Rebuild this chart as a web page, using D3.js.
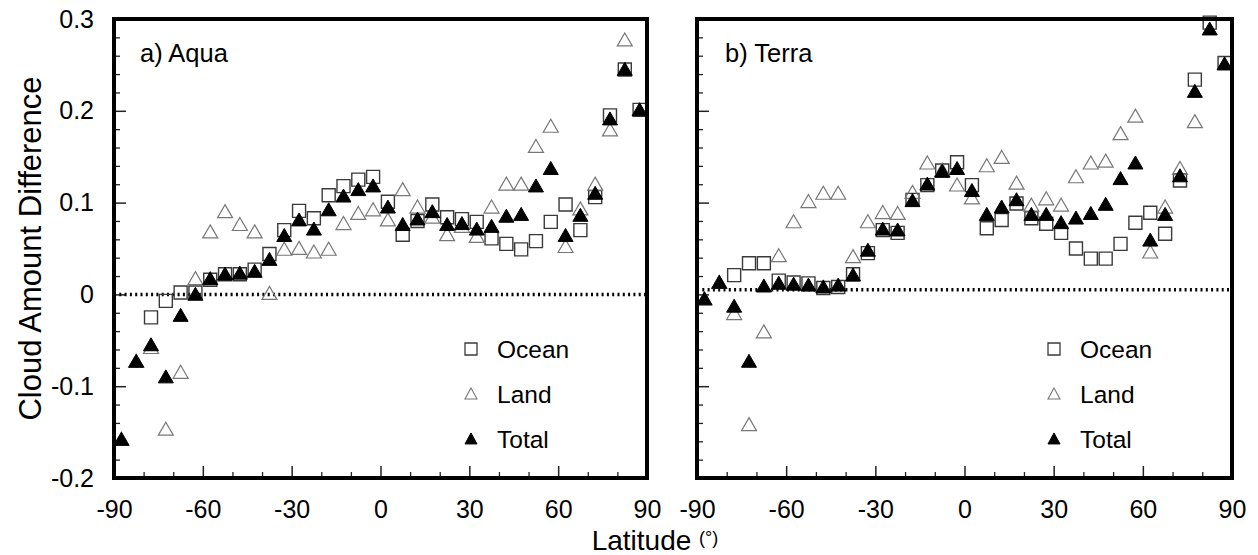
<!DOCTYPE html>
<html>
<head>
<meta charset="utf-8">
<script src="https://cdn.jsdelivr.net/npm/d3@7"></script>
<style>
  body { margin: 0; background: #fff; }
  svg text { font-family: "Liberation Sans", Arial, sans-serif; fill: #000; }
</style>
</head>
<body>
<svg id="chart" width="1258" height="555"></svg>
<script>
// latitude bins (5 degree)
const latitudes = [-87.5, -82.5, -77.5, -72.5, -67.5, -62.5, -57.5, -52.5, -47.5, -42.5,
  -37.5, -32.5, -27.5, -22.5, -17.5, -12.5, -7.5, -2.5, 2.5, 7.5, 12.5, 17.5, 22.5, 27.5,
  32.5, 37.5, 42.5, 47.5, 52.5, 57.5, 62.5, 67.5, 72.5, 77.5, 82.5, 87.5];

const aquaOcean = [null, null, -0.025, -0.007, 0.002, 0.002, 0.016, 0.022, 0.022, 0.027,
  0.044, 0.070, 0.091, 0.083, 0.108, 0.118, 0.125, 0.128, 0.101, 0.065,
  0.080, 0.098, 0.084, 0.082, 0.079, 0.061, 0.055, 0.049, 0.058, 0.079,
  0.098, 0.070, 0.106, 0.195, 0.245, 0.201];
const aquaLand = [-0.158, -0.073, -0.058, -0.147, -0.085, 0.017, 0.068, 0.090, 0.076, 0.068,
  0.001, 0.049, 0.050, 0.046, 0.049, 0.077, 0.088, 0.092, 0.081, 0.114,
  0.095, 0.084, 0.065, 0.074, 0.063, 0.095, 0.120, 0.120, 0.161, 0.183,
  0.052, 0.093, 0.120, 0.179, 0.277, null];
const aquaTotal = [-0.158, -0.073, -0.055, -0.090, -0.023, 0.000, 0.017, 0.022, 0.023, 0.025,
  0.038, 0.064, 0.081, 0.071, 0.092, 0.107, 0.114, 0.118, 0.095, 0.076,
  0.082, 0.090, 0.076, 0.077, 0.071, 0.074, 0.085, 0.087, 0.118, 0.137,
  0.064, 0.086, 0.110, 0.191, 0.245, 0.201];

const terraOcean = [null, null, 0.021, 0.034, 0.034, 0.015, 0.013, 0.012, 0.007, 0.008,
  0.022, 0.045, 0.070, 0.067, 0.103, 0.119, 0.135, 0.144, 0.119, 0.072,
  0.081, 0.099, 0.083, 0.077, 0.067, 0.050, 0.039, 0.039, 0.055, 0.078,
  0.089, 0.066, 0.124, 0.234, 0.296, 0.252];
const terraLand = [-0.005, 0.013, -0.021, -0.142, -0.041, 0.042, 0.079, 0.101, 0.110, 0.110,
  0.041, 0.079, 0.089, 0.088, 0.111, 0.143, 0.135, 0.119, 0.105, 0.140,
  0.149, 0.121, 0.097, 0.104, 0.097, 0.128, 0.143, 0.145, 0.175, 0.194,
  0.046, 0.095, 0.137, 0.188, null, null];
const terraTotal = [-0.005, 0.013, -0.013, -0.073, 0.009, 0.012, 0.011, 0.010, 0.008, 0.010,
  0.021, 0.048, 0.071, 0.070, 0.102, 0.120, 0.134, 0.137, 0.113, 0.087,
  0.095, 0.103, 0.087, 0.087, 0.078, 0.083, 0.088, 0.098, 0.126, 0.143,
  0.059, 0.087, 0.129, 0.221, 0.289, 0.251];

const xTicks = [-90, -60, -30, 0, 30, 60, 90];
const xMinorTicks = [-80, -70, -50, -40, -20, -10, 10, 20, 40, 50, 70, 80];
const yTicks = [-0.2, -0.1, 0, 0.1, 0.2, 0.3];
const yTickLabels = ["-0.2", "-0.1", "0", "0.1", "0.2", "0.3"];
const yMinorTicks = [-0.18, -0.16, -0.14, -0.12, -0.08, -0.06, -0.04, -0.02, 0.02, 0.04, 0.06,
  0.08, 0.12, 0.14, 0.16, 0.18, 0.22, 0.24, 0.26, 0.28];
const seriesNames = ["Ocean", "Land", "Total"];

const panels = [
  { title: "a) Aqua", left: 114, right: 647, labels: true, zero: 0,
    ocean: aquaOcean, land: aquaLand, total: aquaTotal },
  { title: "b) Terra", left: 697, right: 1232, labels: false, zero: 0.005,
    ocean: terraOcean, land: terraLand, total: terraTotal }
];

const TOP = 19, BOTTOM = 478;
const TICK_FONT = 25;
const svg = d3.select("#chart");

const y = d3.scaleLinear().domain([-0.2, 0.3]).range([BOTTOM, TOP]);

function trianglePath(w, h) {
  const p = d3.path();
  p.moveTo(0, -h * 0.55);
  p.lineTo(w / 2, h * 0.45);
  p.lineTo(-w / 2, h * 0.45);
  p.closePath();
  return p.toString();
}
function squarePath(s) {
  const p = d3.path();
  p.rect(-s / 2, -s / 2, s, s);
  return p.toString();
}

const markers = {
  Ocean: { d: squarePath(13), fill: "none", stroke: "#3a3a3a", sw: 1.4 },
  Land: { d: trianglePath(15, 13), fill: "none", stroke: "#777", sw: 1.2 },
  Total: { d: trianglePath(15, 13), fill: "#000", stroke: "#000", sw: 1 }
};
const legendMarkers = {
  Ocean: { d: squarePath(12), fill: "none", stroke: "#3a3a3a", sw: 1.3 },
  Land: { d: trianglePath(12, 11), fill: "none", stroke: "#777", sw: 1.1 },
  Total: { d: trianglePath(12, 11), fill: "#000", stroke: "#000", sw: 1 }
};

function drawPanel(p) {
  const x = d3.scaleLinear().domain([-90, 90]).range([p.left, p.right]);
  const g = svg.append("g");

  // y ticks (inside)
  g.append("g")
    .attr("transform", `translate(${p.left},0)`)
    .call(d3.axisLeft(y).tickValues(yMinorTicks).tickSize(-6).tickFormat(""))
    .call((a) => a.select(".domain").remove())
    .call((a) => a.selectAll("line").attr("stroke", "#222").attr("stroke-width", 1.3));
  g.append("g")
    .attr("transform", `translate(${p.left},0)`)
    .call(d3.axisLeft(y).tickValues(yTicks).tickSize(-12).tickPadding(20)
      .tickFormat((d, i) => (p.labels ? yTickLabels[i] : "")))
    .call((a) => a.select(".domain").remove())
    .call((a) => a.selectAll("line").attr("stroke", "#222").attr("stroke-width", 1.5))
    .call((a) => a.selectAll("text").attr("font-size", TICK_FONT)
      .attr("font-family", "Liberation Sans, Arial, sans-serif"));

  // x ticks (inside)
  g.append("g")
    .attr("transform", `translate(0,${BOTTOM})`)
    .call(d3.axisBottom(x).tickValues(xMinorTicks).tickSize(-6).tickFormat(""))
    .call((a) => a.select(".domain").remove())
    .call((a) => a.selectAll("line").attr("stroke", "#222").attr("stroke-width", 1.3));
  g.append("g")
    .attr("transform", `translate(0,${BOTTOM})`)
    .call(d3.axisBottom(x).tickValues(xTicks).tickSize(-12).tickPadding(22).tickFormat((d) => String(d)))
    .call((a) => a.select(".domain").remove())
    .call((a) => a.selectAll("line").attr("stroke", "#222").attr("stroke-width", 1.5))
    .call((a) => a.selectAll("text").attr("font-size", TICK_FONT)
      .attr("font-family", "Liberation Sans, Arial, sans-serif"));

  // dotted zero line
  g.append("line")
    .attr("x1", x(-90)).attr("x2", x(90))
    .attr("y1", y(p.zero)).attr("y2", y(p.zero))
    .attr("stroke", "#000")
    .attr("stroke-width", 3.5)
    .attr("stroke-dasharray", "2,3.3");

  // data
  const series = [["Ocean", p.ocean], ["Land", p.land], ["Total", p.total]];
  series.forEach(([name, values]) => {
    const m = markers[name];
    g.append("g")
      .selectAll("path")
      .data(latitudes.map((lat, i) => ({ lat, v: values[i] })).filter((d) => d.v !== null))
      .join("path")
      .attr("d", m.d)
      .attr("transform", (d) => `translate(${x(d.lat)},${y(d.v)})`)
      .attr("fill", m.fill)
      .attr("stroke", m.stroke)
      .attr("stroke-width", m.sw);
  });

  // frame
  g.append("rect")
    .attr("x", p.left).attr("y", TOP)
    .attr("width", p.right - p.left).attr("height", BOTTOM - TOP)
    .attr("fill", "none")
    .attr("stroke", "#000")
    .attr("stroke-width", 4);

  // panel title
  g.append("text")
    .attr("x", p.left + (p.labels ? 26 : 28))
    .attr("y", 62)
    .attr("font-size", 25.5)
    .text(p.title);

  // legend
  const legend = g.append("g").attr("transform", `translate(${p.left + 357},349)`);
  seriesNames.forEach((name, i) => {
    const m = legendMarkers[name];
    legend.append("path")
      .attr("d", m.d)
      .attr("transform", `translate(0,${i * 45})`)
      .attr("fill", m.fill)
      .attr("stroke", m.stroke)
      .attr("stroke-width", m.sw);
    legend.append("text")
      .attr("x", 26)
      .attr("y", i * 45)
      .attr("dy", "0.36em")
      .attr("font-size", 24.5)
      .text(name);
  });
}

panels.forEach(drawPanel);

// axis titles
svg.append("text")
  .attr("transform", `translate(41,${(TOP + BOTTOM) / 2}) rotate(-90)`)
  .attr("text-anchor", "middle")
  .attr("font-size", 31)
  .text("Cloud Amount Difference");

const xt = svg.append("text")
  .attr("x", 655)
  .attr("y", 550)
  .attr("text-anchor", "middle")
  .attr("font-size", 28);
xt.append("tspan").text("Latitude ");
xt.append("tspan").attr("font-size", 18).attr("dy", -6).text("(°)");
</script>
</body>
</html>
